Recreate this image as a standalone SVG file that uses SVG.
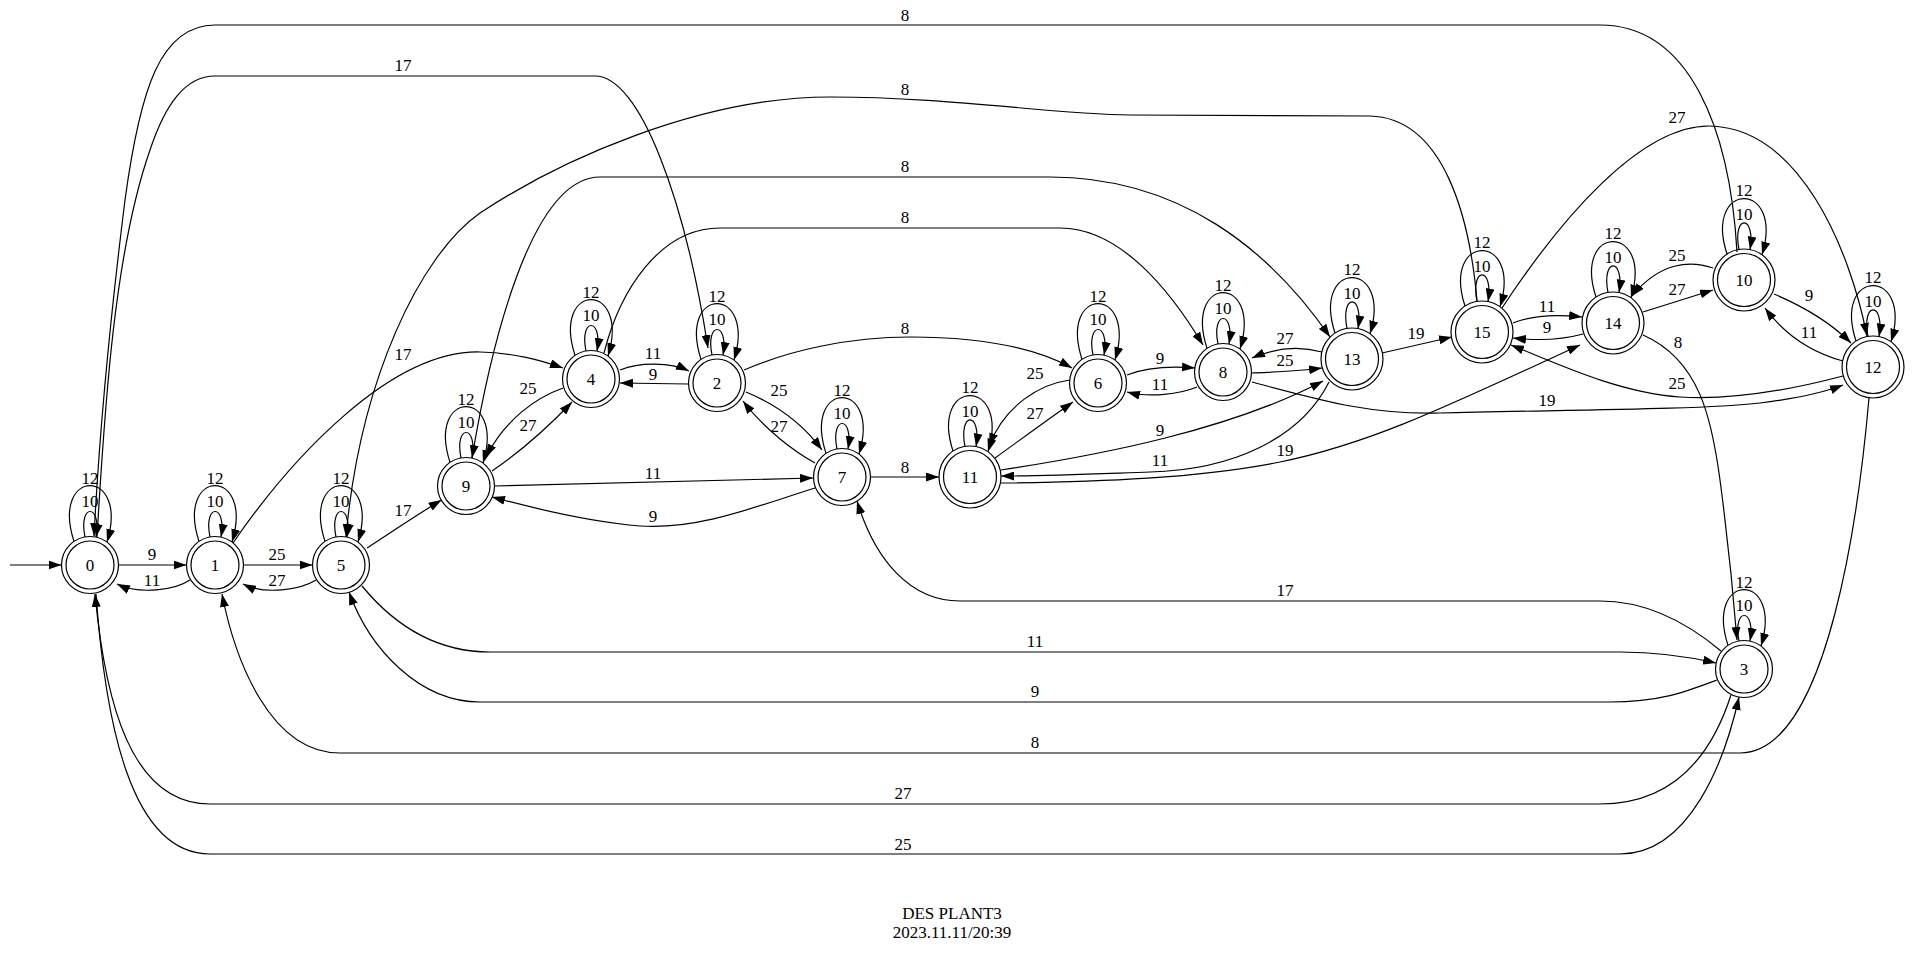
<svg xmlns="http://www.w3.org/2000/svg" width="1912" height="953" viewBox="0 0 1912 953">
<style>
.e{fill:none;stroke:#000;stroke-width:1.2;marker-end:url(#a)}
.c{fill:none;stroke:#000;stroke-width:1.2}
text{font-family:"Liberation Serif","Times New Roman",serif;font-size:17px;text-anchor:middle;fill:#000}
</style>
<defs>
<marker id="a" markerWidth="13" markerHeight="9" refX="13" refY="4.5" orient="auto" markerUnits="userSpaceOnUse"><path d="M0,0 L13,4.5 L0,9 z" fill="#000"/></marker>
</defs>
<rect width="1912" height="953" fill="#fff"/>
<g id="edges">
<path class="e" d="M10,565 L61.5,565"/>
<path class="e" d="M118.5,565 L186.5,565"/><text x="152" y="560">9</text>
<path class="e" d="M190,580 C175,590 140,595 117,584"/><text x="152" y="586">11</text>
<path class="e" d="M243.5,565 L312.5,565"/><text x="277" y="560">25</text>
<path class="e" d="M316,580 C300,590 265,595 243,584"/><text x="277" y="586">27</text>
<path class="e" d="M367,548 C390,533 415,516 441.5,500"/><text x="403" y="516">17</text>
<path class="e" d="M233,543 C290,460 390,350 480,352 C515,353 540,360 563,368"/><text x="403" y="360">17</text>
<path class="e" d="M492,471 C520,452 550,425 572,402"/><text x="528" y="431">27</text>
<path class="e" d="M563,388 C535,398 505,420 486,457"/><text x="528" y="394">25</text>
<path class="e" d="M620,370 C640,362 670,362 689,371"/><text x="653" y="359">11</text>
<path class="e" d="M688,384 L620,383"/><text x="653" y="380">9</text>
<path class="e" d="M746,392 C770,402 800,420 822,450"/><text x="779" y="396">25</text>
<path class="e" d="M815,463 C795,452 765,430 743,401"/><text x="779" y="432">27</text>
<path class="e" d="M494.5,486 L813,478"/><text x="653" y="479">11</text>
<path class="e" d="M815,488 C760,505 700,530 640,526 C590,522 540,510 492,497"/><text x="653" y="522">9</text>
<path class="e" d="M870.5,477 L939,477"/><text x="905" y="473">8</text>
<path class="e" d="M995,458 C1020,440 1050,418 1073,402"/><text x="1035" y="419">27</text>
<path class="e" d="M1070,380 C1040,384 1005,405 989,446"/><text x="1035" y="379">25</text>
<path class="e" d="M1127,375 C1145,368 1170,366 1195,368"/><text x="1160" y="364">9</text>
<path class="e" d="M1197,387 C1180,394 1150,398 1127,392"/><text x="1160" y="390">11</text>
<path class="e" d="M1252,373 C1275,372 1300,371 1322,368"/><text x="1285" y="366">25</text>
<path class="e" d="M1322,352 C1300,346 1275,348 1252,358"/><text x="1285" y="344">27</text>
<path class="e" d="M1382,353 L1452,337"/><text x="1416" y="339">19</text>
<path class="e" d="M1001,470 C1100,455 1230,430 1323,381"/><text x="1160" y="436">9</text>
<path class="e" d="M1329,382 C1300,440 1230,470 1150,472 C1090,474 1040,476 1001,476"/><text x="1160" y="466">11</text>
<path class="e" d="M1000,483 C1100,482 1200,478 1280,462 C1370,444 1450,405 1580,345"/><text x="1285" y="456">19</text>
<path class="e" d="M1252,382 C1320,400 1370,415 1440,413 C1550,410 1700,410 1760,403 C1800,398 1825,392 1843,385"/><text x="1547" y="406">19</text>
<path class="e" d="M1843,376 C1790,390 1730,400 1680,397 C1620,393 1560,365 1511,345"/><text x="1677" y="389">25</text>
<path class="e" d="M1502,308 C1560,220 1640,125 1710,126 C1800,128 1850,250 1867,336"/><text x="1677" y="123">27</text>
<path class="e" d="M1513,323 C1530,316 1555,314 1582,317"/><text x="1547" y="312">11</text>
<path class="e" d="M1583,334 C1565,339 1540,341 1513,338"/><text x="1547" y="333">9</text>
<path class="e" d="M1643,312 L1713,290"/><text x="1677" y="295">27</text>
<path class="e" d="M1713,268 C1690,260 1660,262 1632,296"/><text x="1677" y="261">25</text>
<path class="e" d="M1774,294 C1800,305 1830,322 1851,343"/><text x="1809" y="301">9</text>
<path class="e" d="M1843,361 C1810,352 1785,335 1765,308"/><text x="1809" y="338">11</text>
<path class="e" d="M1737,252 C1730,130 1690,25 1600,25 L215,25 C160,25 140,90 125,200 C110,320 100,420 94,536"/><text x="905" y="21">8</text>
<path class="e" d="M97,537 C105,400 115,250 150,150 C165,105 185,76 215,76 L595,76 C640,76 685,200 708,348"/><text x="403" y="71">17</text>
<path class="e" d="M1477,301 C1470,220 1445,118 1370,116 L1130,115 C1050,114 950,97 830,97 C700,97 560,160 480,213 C420,255 360,380 346,537"/><text x="905" y="95">8</text>
<path class="e" d="M472,458 C490,350 530,177 600,177 L1050,177 C1180,177 1270,250 1330,337"/><text x="905" y="172">8</text>
<path class="e" d="M604,353 C620,290 660,228 720,228 L1060,228 C1120,228 1170,290 1203,345"/><text x="905" y="223">8</text>
<path class="e" d="M744,370 C790,350 850,337 910,337 C970,337 1030,345 1072,368"/><text x="905" y="334">8</text>
<path class="e" d="M1643,335 C1700,360 1712,420 1720,480 C1728,540 1733,590 1737,640"/><text x="1678" y="348">8</text>
<path class="e" d="M1869,398 C1860,500 1830,753 1740,753 L340,753 C270,753 235,660 222,594"/><text x="1035" y="748">8</text>
<path class="e" d="M1721,651 C1690,625 1650,601 1600,601 L960,601 C910,601 875,560 857,501"/><text x="1285" y="596">17</text>
<path class="e" d="M362,586 C390,620 430,652 490,652 L1620,652 C1660,652 1690,657 1716,663"/><text x="1035" y="647">11</text>
<path class="e" d="M1717,680 C1685,692 1660,702 1610,702 L480,702 C420,702 370,650 349,592"/><text x="1035" y="697">9</text>
<path class="e" d="M1731,695 C1710,760 1670,804 1600,804 L210,804 C130,804 105,700 95,594"/><text x="903" y="799">27</text>
<path class="e" d="M96,594 C105,720 130,854 210,854 L1620,854 C1690,854 1725,760 1739,697"/><text x="903" y="850">25</text>
<!-- self loops -->
<path class="e" d="M85,537 C78,503 102,503 96,537"/><path class="e" d="M74,541.4 C50,467 130,467 107,542"/><text x="90" y="507">10</text><text x="90" y="483.5">12</text>
<path class="e" d="M210,537 C203,503 227,503 221,537"/><path class="e" d="M199,541.4 C175,467 255,467 232,542"/><text x="215" y="507">10</text><text x="215" y="483.5">12</text>
<path class="e" d="M336,537 C329,503 353,503 347,537"/><path class="e" d="M325,541.4 C301,467 381,467 358,542"/><text x="341" y="507">10</text><text x="341" y="483.5">12</text>
<path class="e" d="M461,458 C454,424 478,424 472,458"/><path class="e" d="M450,462.4 C426,388 506,388 483,463"/><text x="466" y="428">10</text><text x="466" y="404.5">12</text>
<path class="e" d="M586,351 C579,317 603,317 597,351"/><path class="e" d="M575,355.4 C551,281 631,281 608,356"/><text x="591" y="321">10</text><text x="591" y="297.5">12</text>
<path class="e" d="M712,355 C705,321 729,321 723,355"/><path class="e" d="M701,359.4 C677,285 757,285 734,360"/><text x="717" y="325">10</text><text x="717" y="301.5">12</text>
<path class="e" d="M837,449 C830,415 854,415 848,449"/><path class="e" d="M826,453.4 C802,379 882,379 859,454"/><text x="842" y="419">10</text><text x="842" y="395.5">12</text>
<path class="e" d="M1093,355 C1086,321 1110,321 1104,355"/><path class="e" d="M1082,359.4 C1058,285 1138,285 1115,360"/><text x="1098" y="325">10</text><text x="1098" y="301.5">12</text>
<path class="e" d="M1218,344 C1211,310 1235,310 1229,344"/><path class="e" d="M1207,348.4 C1183,274 1263,274 1240,349"/><text x="1223" y="314">10</text><text x="1223" y="290.5">12</text>
<path class="e" d="M1739,641 C1732,607 1756,607 1750,641"/><path class="e" d="M1728,645.4 C1704,571 1784,571 1761,646"/><text x="1744" y="611">10</text><text x="1744" y="587.5">12</text>
<path class="e" d="M965,446.4 C958,411 982,411 976,446.6"/><path class="e" d="M953,451 C929,377 1011,377 988,451.7"/><text x="970" y="416.5">10</text><text x="970" y="393">12</text>
<path class="e" d="M1347,328.4 C1340,293 1364,293 1358,328.6"/><path class="e" d="M1335,333 C1311,259 1393,259 1370,333.7"/><text x="1352" y="298.5">10</text><text x="1352" y="275">12</text>
<path class="e" d="M1477,301.4 C1470,266 1494,266 1488,301.6"/><path class="e" d="M1465,306 C1441,232 1523,232 1500,306.7"/><text x="1482" y="271.5">10</text><text x="1482" y="248">12</text>
<path class="e" d="M1608,292.4 C1601,257 1625,257 1619,292.6"/><path class="e" d="M1596,297 C1572,223 1654,223 1631,297.7"/><text x="1613" y="262.5">10</text><text x="1613" y="239">12</text>
<path class="e" d="M1739,249.4 C1732,214 1756,214 1750,249.6"/><path class="e" d="M1727,254 C1703,180 1785,180 1762,254.7"/><text x="1744" y="219.5">10</text><text x="1744" y="196">12</text>
<path class="e" d="M1868,336.4 C1861,301 1885,301 1879,336.6"/><path class="e" d="M1856,341 C1832,267 1914,267 1891,341.7"/><text x="1873" y="306.5">10</text><text x="1873" y="283">12</text>
</g>
<g id="n0"><circle class="c" cx="90" cy="565" r="24"/><circle class="c" cx="90" cy="565" r="28.5"/><text x="90" y="571">0</text></g>
<g id="n1"><circle class="c" cx="215" cy="565" r="24"/><circle class="c" cx="215" cy="565" r="28.5"/><text x="215" y="571">1</text></g>
<g id="n5"><circle class="c" cx="341" cy="565" r="24"/><circle class="c" cx="341" cy="565" r="28.5"/><text x="341" y="571">5</text></g>
<g id="n9"><circle class="c" cx="466" cy="486" r="24"/><circle class="c" cx="466" cy="486" r="28.5"/><text x="466" y="492">9</text></g>
<g id="n4"><circle class="c" cx="591" cy="379" r="24"/><circle class="c" cx="591" cy="379" r="28.5"/><text x="591" y="385">4</text></g>
<g id="n2"><circle class="c" cx="717" cy="383" r="24"/><circle class="c" cx="717" cy="383" r="28.5"/><text x="717" y="389">2</text></g>
<g id="n7"><circle class="c" cx="842" cy="477" r="24"/><circle class="c" cx="842" cy="477" r="28.5"/><text x="842" y="483">7</text></g>
<g id="n6"><circle class="c" cx="1098" cy="383" r="24"/><circle class="c" cx="1098" cy="383" r="28.5"/><text x="1098" y="389">6</text></g>
<g id="n8"><circle class="c" cx="1223" cy="372" r="24"/><circle class="c" cx="1223" cy="372" r="28.5"/><text x="1223" y="378">8</text></g>
<g id="n3"><circle class="c" cx="1744" cy="669" r="24"/><circle class="c" cx="1744" cy="669" r="28.5"/><text x="1744" y="675">3</text></g>
<g id="n11"><circle class="c" cx="970" cy="477" r="26.5"/><circle class="c" cx="970" cy="477" r="31"/><text x="970" y="483">11</text></g>
<g id="n13"><circle class="c" cx="1352" cy="359" r="26.5"/><circle class="c" cx="1352" cy="359" r="31"/><text x="1352" y="365">13</text></g>
<g id="n15"><circle class="c" cx="1482" cy="332" r="26.5"/><circle class="c" cx="1482" cy="332" r="31"/><text x="1482" y="338">15</text></g>
<g id="n14"><circle class="c" cx="1613" cy="323" r="26.5"/><circle class="c" cx="1613" cy="323" r="31"/><text x="1613" y="329">14</text></g>
<g id="n10"><circle class="c" cx="1744" cy="280" r="26.5"/><circle class="c" cx="1744" cy="280" r="31"/><text x="1744" y="286">10</text></g>
<g id="n12"><circle class="c" cx="1873" cy="367" r="26.5"/><circle class="c" cx="1873" cy="367" r="31"/><text x="1873" y="373">12</text></g>
<g id="title"><text x="952" y="919">DES PLANT3</text><text x="952" y="938">2023.11.11/20:39</text></g>
</svg>
